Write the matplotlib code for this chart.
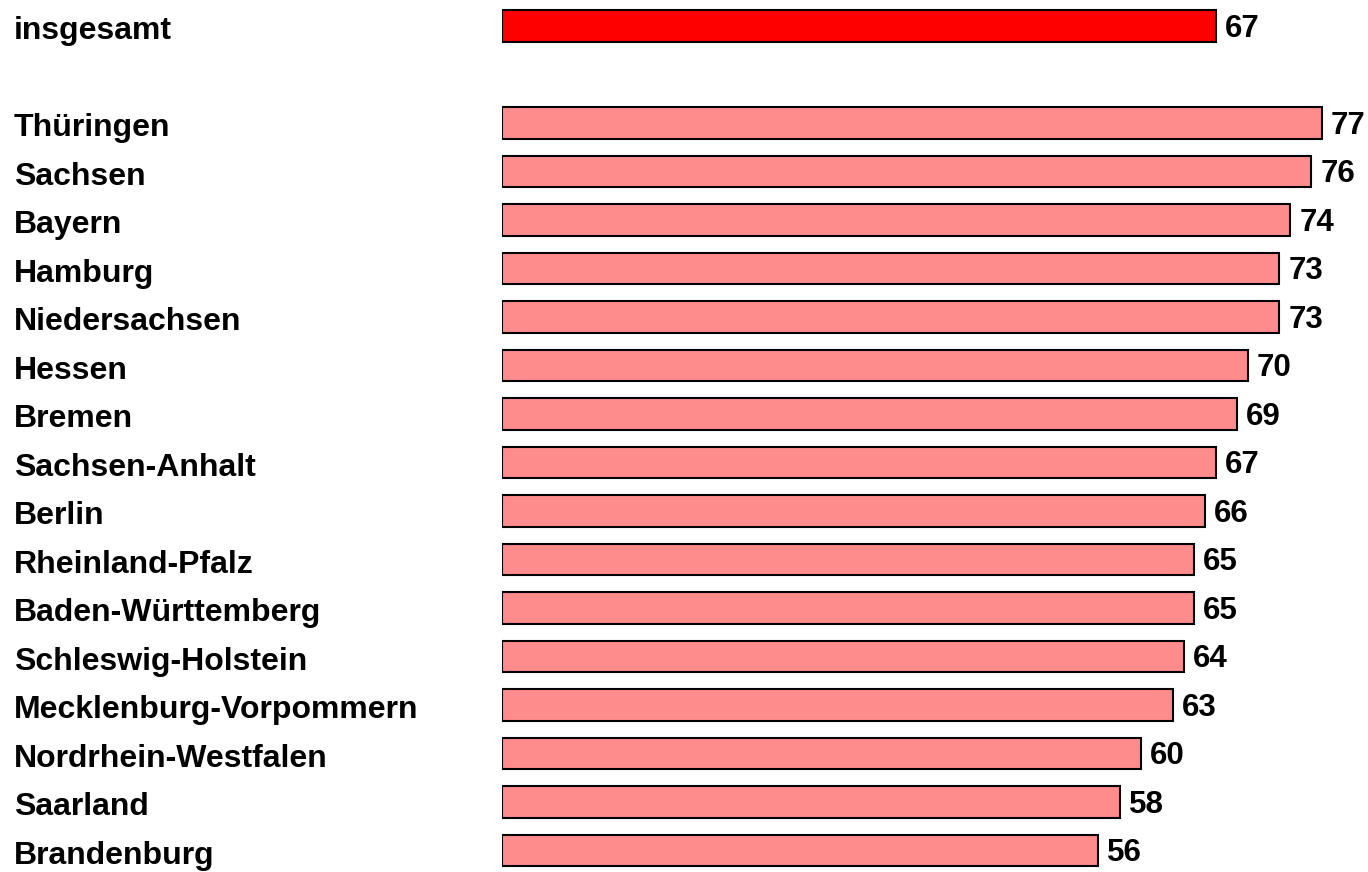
import matplotlib
matplotlib.use("Agg")
import matplotlib.pyplot as plt
import matplotlib.transforms as mtransforms

categories = ["insgesamt", "Thüringen", "Sachsen", "Bayern", "Hamburg", "Niedersachsen",
              "Hessen", "Bremen", "Sachsen-Anhalt", "Berlin", "Rheinland-Pfalz",
              "Baden-Württemberg", "Schleswig-Holstein", "Mecklenburg-Vorpommern",
              "Nordrhein-Westfalen", "Saarland", "Brandenburg"]
values = [67, 77, 76, 74, 73, 73, 70, 69, 67, 66, 65, 65, 64, 63, 60, 58, 56]
# row positions: insgesamt, then a blank row, then the Länder
rows = [0] + list(range(2, 18))

plt.rcParams['font.family'] = ['Liberation Sans', 'DejaVu Sans']
W, H = 1368, 872
fig = plt.figure(figsize=(W / 100, H / 100), dpi=100)
left = 502 / W
ax = fig.add_axes([left, 0, 1 - left, 1])
ax.set_xlim(0, (W - 502) / 10.65)
row_px = 48.5
ax.set_ylim((H - 26) / row_px, -26 / row_px)
ax.axis('off')

colors = ['#FF0000'] + ['#FF8C8C'] * (len(values) - 1)
ax.barh(rows, values, height=0.64, color=colors, edgecolor='black', linewidth=1.5)

trans = mtransforms.blended_transform_factory(fig.transFigure, ax.transData)
px = 72 / 100  # points per pixel
for r, v, c in zip(rows, values, categories):
    ax.annotate(str(v), (v, r), xytext=(6.5, -10.5 * px), textcoords='offset points',
                ha='left', va='baseline', fontsize=22.5, fontweight='bold')
    ax.annotate(c, (14 / W, r), xycoords=trans, xytext=(0, -13 * px),
                textcoords='offset points', ha='left', va='baseline',
                fontsize=23, fontweight='bold')

fig.savefig("out.png", dpi=100)
